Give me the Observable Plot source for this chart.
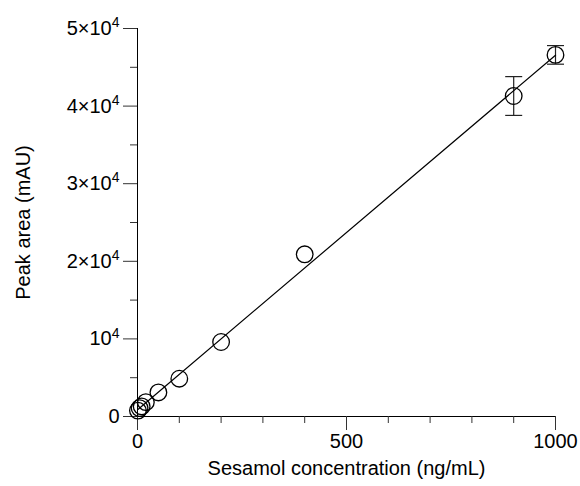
<!DOCTYPE html>
<html>
<head>
<meta charset="utf-8">
<script src="https://cdn.jsdelivr.net/npm/d3@7"></script>
<script src="https://cdn.jsdelivr.net/npm/@observablehq/plot@0.6"></script>
<style>
  html, body { margin: 0; padding: 0; background: #fff; }
</style>
</head>
<body>
<div id="chart"></div>
<script>
// Data
const conc = [1, 5, 10, 20, 50, 100, 200, 400, 900, 1000];           // ng/mL
const area = [760, 1080, 1300, 1850, 3100, 4870, 9600, 20900, 41300, 46600]; // mAU
const sd   = [0, 0, 0, 0, 0, 0, 0, 0, 2500, 1200];

const xMajor = [0, 500, 1000];
const xMinor = [100, 200, 300, 400, 600, 700, 800, 900];
const yMajor = [0, 10000, 20000, 30000, 40000, 50000];
const yMinor = [5000, 15000, 25000, 35000, 45000];
const yLabels = ["0", "10^4", "2×10^4", "3×10^4", "4×10^4", "5×10^4"];

const data = conc.map((c, i) => ({x: c, y: area[i], e: sd[i]}));
const errs = data.filter(d => d.e > 0);

// horizontal cap symbol for error bars
const capSymbol = {
  draw(ctx, size) {
    const r = Math.sqrt(size / Math.PI);
    ctx.moveTo(-r, 0);
    ctx.lineTo(r, 0);
  }
};

const chart = Plot.plot({
  width: 580,
  height: 486,
  marginLeft: 137,
  marginRight: 25,
  marginTop: 28,
  marginBottom: 70,
  style: {fontFamily: "'Liberation Sans', Arial, Helvetica, sans-serif", fontSize: "20px", color: "#000", background: "#fff"},
  x: {domain: [0, 1000]},
  y: {domain: [0, 50000]},
  marks: [
    Plot.frame({anchor: "left", stroke: "#000"}),
    Plot.frame({anchor: "bottom", stroke: "#000"}),
    Plot.axisX({ticks: xMinor, tickSize: 7, tickFormat: () => "", stroke: "#333", label: null}),
    Plot.axisX({ticks: xMajor, tickSize: 14, tickPadding: 3, stroke: "#333", tickFormat: d => String(d),
      label: "Sesamol concentration (ng/mL)", labelAnchor: "center", labelArrow: "none", labelOffset: 58}),
    Plot.axisY({ticks: yMinor, tickSize: 7, tickFormat: () => "", stroke: "#333", label: null}),
    Plot.axisY({ticks: yMajor, tickSize: 14, tickPadding: 4, stroke: "#333",
      tickFormat: d => yLabels[yMajor.indexOf(d)],
      label: "Peak area (mAU)", labelAnchor: "center", labelArrow: "none", labelOffset: 122}),
    Plot.ruleX(errs, {x: "x", y1: d => d.y - d.e, y2: d => d.y + d.e, stroke: "#222", strokeWidth: 1.2}),
    Plot.dot(errs, {x: "x", y: d => d.y + d.e, symbol: capSymbol, r: 8.5, stroke: "#222", strokeWidth: 1.2}),
    Plot.dot(errs, {x: "x", y: d => d.y - d.e, symbol: capSymbol, r: 8.5, stroke: "#222", strokeWidth: 1.2}),
    Plot.linearRegressionY(data, {x: "x", y: "y", ci: 0, stroke: "#000", strokeWidth: 1.2}),
    Plot.dot(data, {x: "x", y: "y", r: 8.3, stroke: "#000", strokeWidth: 1.3, fill: "none"})
  ]
});

// Turn "a^b" tick labels into real superscripts
d3.select(chart).selectAll("text").each(function() {
  const t = this.textContent;
  if (t.includes("^")) {
    const [base, exp] = t.split("^");
    const sel = d3.select(this);
    sel.text(base);
    sel.append("tspan").attr("dy", "-0.55em").attr("font-size", "14px").text(exp);
  }
});
document.getElementById("chart").appendChild(chart);
</script>
</body>
</html>
